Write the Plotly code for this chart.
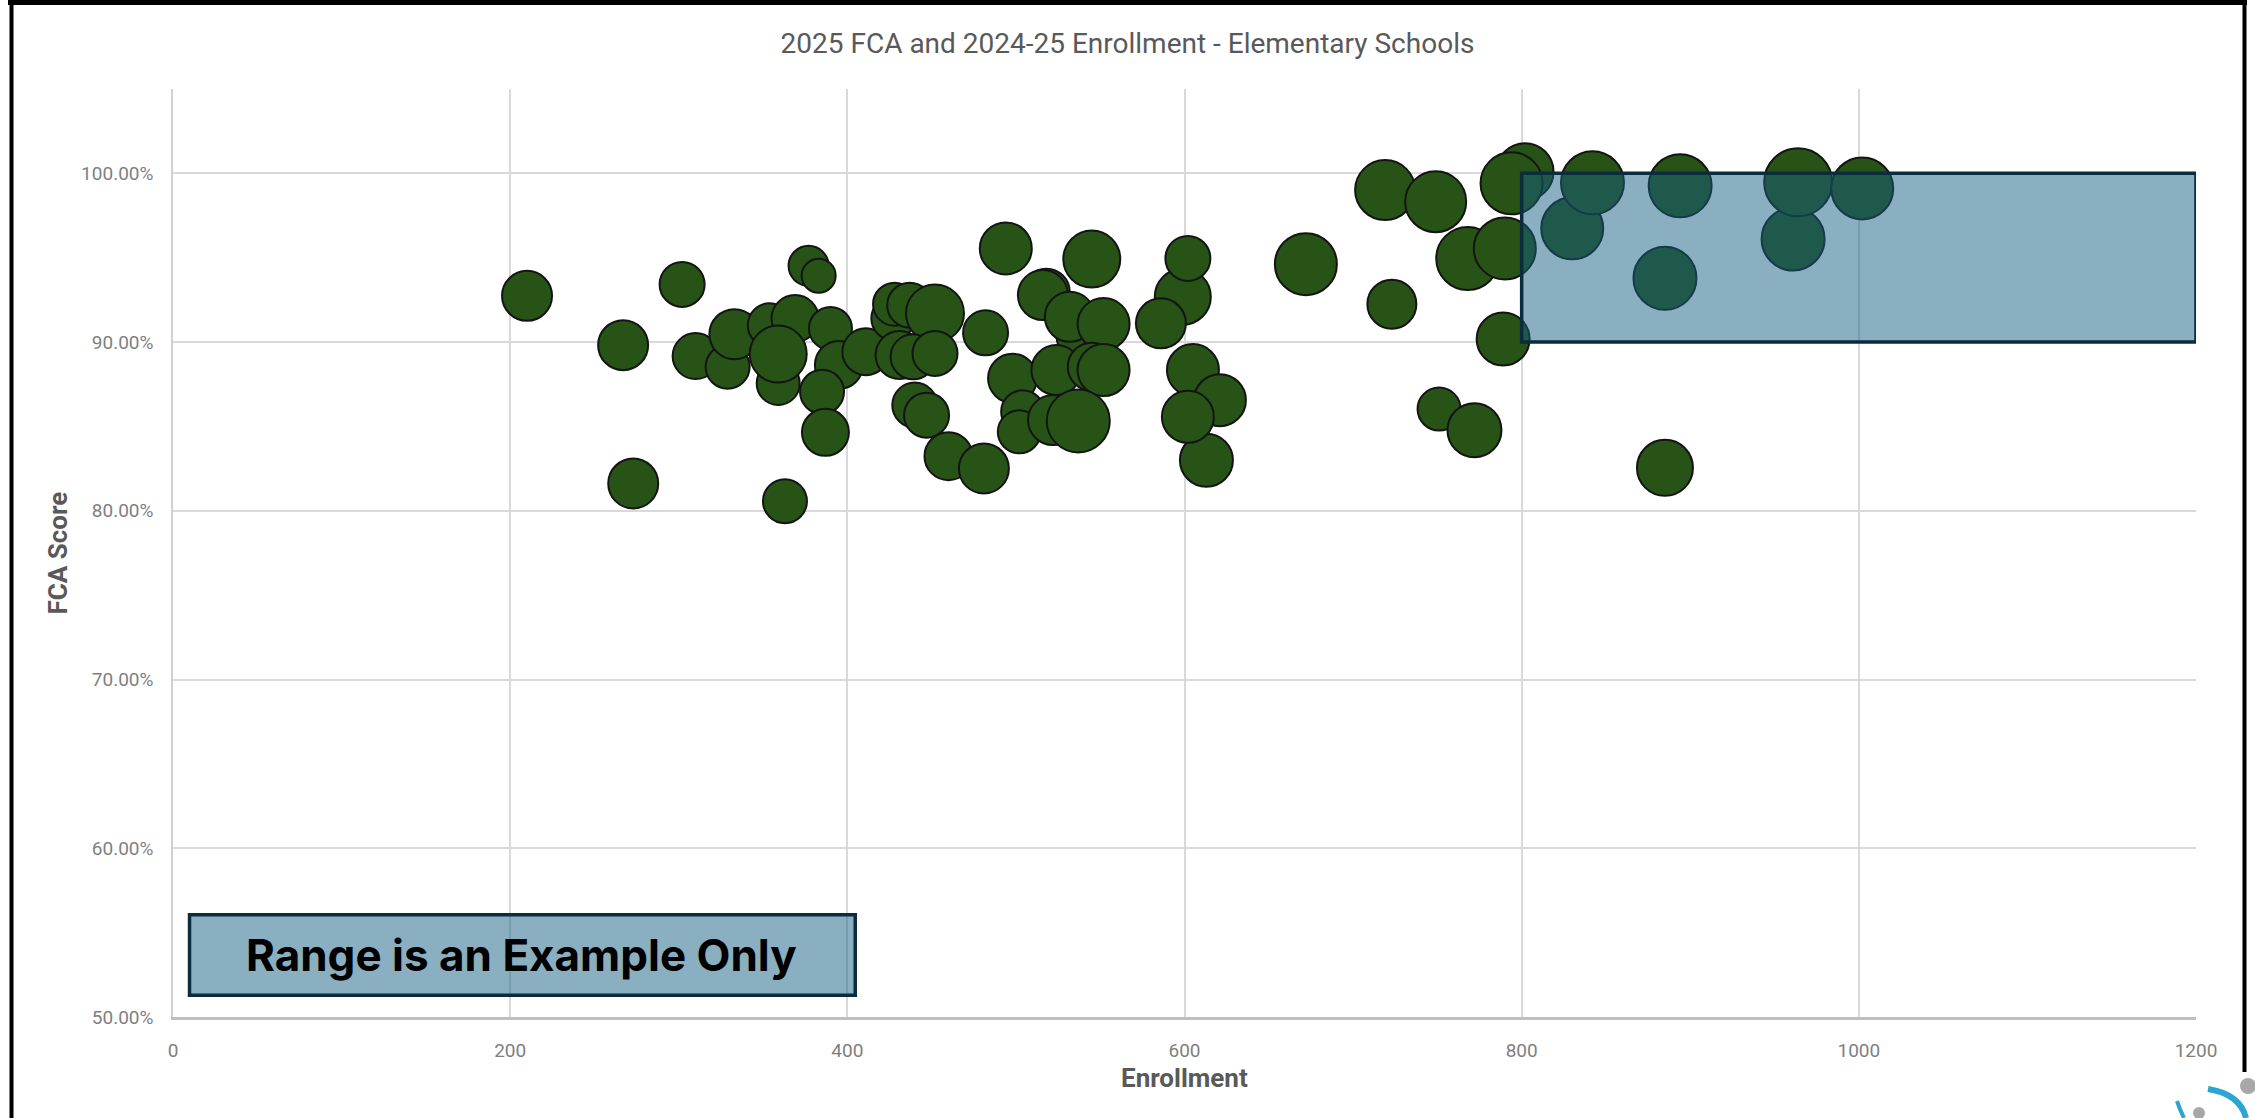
import plotly.graph_objects as go

# ---------------- data ----------------
enrollment = [536, 210, 302, 267, 310, 273, 377, 383, 329, 333, 354, 369, 359, 359, 390,
              395, 385, 387, 363, 411, 427, 428, 437, 452, 431, 439, 452, 440, 447,
              460, 481, 482, 494, 545, 518, 516, 532, 552, 498, 524, 545, 552,
              504, 502, 522, 537, 599, 586, 602, 605, 621, 613, 602, 672, 723, 719,
              749, 768, 790, 802, 794, 789, 751, 772, 830, 842, 894, 885, 961, 964,
              1002, 885]
fca_score = [0.9031, 0.9274, 0.9342, 0.8982, 0.8917, 0.8162, 0.9452, 0.9393, 0.8854, 0.9047, 0.9100,
             0.9140, 0.8755, 0.8929, 0.9081, 0.8864, 0.8705, 0.8465, 0.8057, 0.8943, 0.9140,
             0.9225, 0.9219, 0.9170, 0.8923, 0.8913, 0.8933, 0.8627, 0.8567, 0.8324, 0.8251,
             0.9055, 0.9555, 0.9492, 0.9296, 0.9279, 0.9150, 0.9107, 0.8785, 0.8834, 0.8854,
             0.8834, 0.8587, 0.8468, 0.8538, 0.8533, 0.9269, 0.9111, 0.9496, 0.8834,
             0.8656, 0.8300, 0.8557, 0.9462, 0.9225, 0.9901, 0.9832, 0.9496, 0.9555, 1.0010,
             0.9941, 0.9018, 0.8603, 0.8478, 0.9674, 0.9944, 0.9926, 0.9378, 0.9611, 0.9947,
             0.9911, 0.8255]
bubble_size = [40, 50, 45, 50, 46, 50, 40, 34, 44, 50, 44, 47, 43, 57, 43,
               48, 44, 47, 44, 47, 43, 43, 45, 58, 48, 45, 45, 45, 45,
               48, 50, 45, 52, 57, 47, 50, 50, 52, 49, 50, 48, 52,
               43, 43, 50, 63, 56, 50, 45, 52, 52, 53, 52, 62, 49, 60,
               61, 63, 62, 57, 62, 53, 43, 54, 62, 63, 63, 63, 63, 68,
               62, 56]

x_ticks = [0, 200, 400, 600, 800, 1000, 1200]
y_ticks = [0.5, 0.6, 0.7, 0.8, 0.9, 1.0]

title_text = "2025 FCA and 2024-25 Enrollment - Elementary Schools"
x_title = "Enrollment"
y_title = "FCA Score"
note_text = "Range is an Example Only"

# ---------------- layout geometry ----------------
W, H = 2255, 1118
L, R, T, B = 173, 59, 89, 101


def pxx(x):
    return (x - L) / (W - L - R)


def pxy(y):
    return (H - B - y) / (H - T - B)


fig = go.Figure()
fig.add_trace(go.Scatter(
    x=enrollment, y=fca_score, mode="markers",
    marker=dict(size=bubble_size, sizemode="diameter", color="#275317",
                line=dict(color="#141414", width=2), opacity=1),
    hoverinfo="x+y", showlegend=False,
))

shapes = []
# example range rectangle
shapes.append(dict(type="rect", xref="x", yref="y", x0=800, x1=1200, y0=0.90, y1=1.00,
                   fillcolor="rgba(21,96,130,0.5)", line=dict(color="#0a2c3c", width=3.5),
                   layer="above"))
# note box
shapes.append(dict(type="rect", xref="x", yref="y", x0=9.8, x1=404.7, y0=0.5129, y1=0.5606,
                   fillcolor="rgba(21,96,130,0.5)", line=dict(color="#0a2c3c", width=3.5),
                   layer="above"))
# outer frame
shapes.append(dict(type="line", xref="paper", yref="paper", x0=pxx(8), x1=pxx(2247),
                   y0=pxy(2.5), y1=pxy(2.5), line=dict(color="black", width=5), layer="above"))
shapes.append(dict(type="line", xref="paper", yref="paper", x0=pxx(11.5), x1=pxx(11.5),
                   y0=pxy(0), y1=pxy(1125), line=dict(color="black", width=4), layer="above"))
shapes.append(dict(type="line", xref="paper", yref="paper", x0=pxx(2244.5), x1=pxx(2244.5),
                   y0=pxy(0), y1=pxy(1072), line=dict(color="black", width=4), layer="above"))
# partial logo in bottom-right corner
shapes.append(dict(type="circle", xref="paper", yref="paper", x0=pxx(2240), x1=pxx(2256),
                   y0=pxy(1078), y1=pxy(1094), fillcolor="#a8a8a8", line=dict(width=0)))
shapes.append(dict(type="circle", xref="paper", yref="paper", x0=pxx(2193), x1=pxx(2205),
                   y0=pxy(1107), y1=pxy(1119), fillcolor="#a8a8a8", line=dict(width=0)))


def ppath(points):
    s = "M %f,%f" % (pxx(points[0][0]), pxy(points[0][1]))
    s += " Q %f,%f %f,%f" % (pxx(points[1][0]), pxy(points[1][1]), pxx(points[2][0]), pxy(points[2][1]))
    return s


shapes.append(dict(type="path", xref="paper", yref="paper",
                   path=ppath([(2208, 1089), (2240, 1094), (2246, 1118)]),
                   line=dict(color="#2aa6d3", width=6)))
shapes.append(dict(type="path", xref="paper", yref="paper",
                   path=ppath([(2177, 1101), (2180, 1110), (2184, 1118)]),
                   line=dict(color="#2aa6d3", width=4)))

annotations = [
    dict(text=note_text, x=207, y=0.5368, xref="x", yref="y", showarrow=False,
         xanchor="center", yanchor="middle",
         font=dict(family="Inter", size=44, color="black", weight="bold")),
    dict(text=x_title, x=0.5, y=pxy(1078), xref="paper", yref="paper", showarrow=False,
         xanchor="center", yanchor="middle",
         font=dict(family="Roboto", size=26, color="#595959", weight="bold")),
    dict(text=y_title, x=pxx(57.5), y=0.5, xref="paper", yref="paper", showarrow=False,
         xanchor="center", yanchor="middle",
         textangle=-90, font=dict(family="Roboto", size=26, color="#595959", weight="bold")),
]

fig.update_layout(
    width=W, height=H,
    margin=dict(l=L, r=R, t=T, b=B, autoexpand=False),
    paper_bgcolor="white", plot_bgcolor="white",
    title=dict(text=title_text, x=0.5, xref="container", xanchor="center",
               y=1 - 43 / H, yref="container", yanchor="middle",
               font=dict(family="Roboto", size=28, color="#595959")),
    shapes=shapes, annotations=annotations,
    xaxis=dict(range=[0, 1200], tickvals=x_ticks, showgrid=True, gridcolor="#d9d9d9",
               gridwidth=1.5, zeroline=False, showline=True, linecolor="#bfbfbf", linewidth=2.5,
               tickfont=dict(family="Roboto", size=19, color="#7f7f7f"), ticks="",
               ticklabelstandoff=14),
    yaxis=dict(range=[0.5, 1.05], tickvals=y_ticks, tickformat=".2%", showgrid=True,
               gridcolor="#d9d9d9", gridwidth=1.5, zeroline=False, showline=True,
               linecolor="#d0d0d0", linewidth=1.5,
               tickfont=dict(family="Roboto", size=19, color="#7f7f7f"), ticks="",
               ticklabelstandoff=14),
)

fig.write_html("out.html", config={"displayModeBar": False},
               post_script="document.body.style.margin='0px';")
